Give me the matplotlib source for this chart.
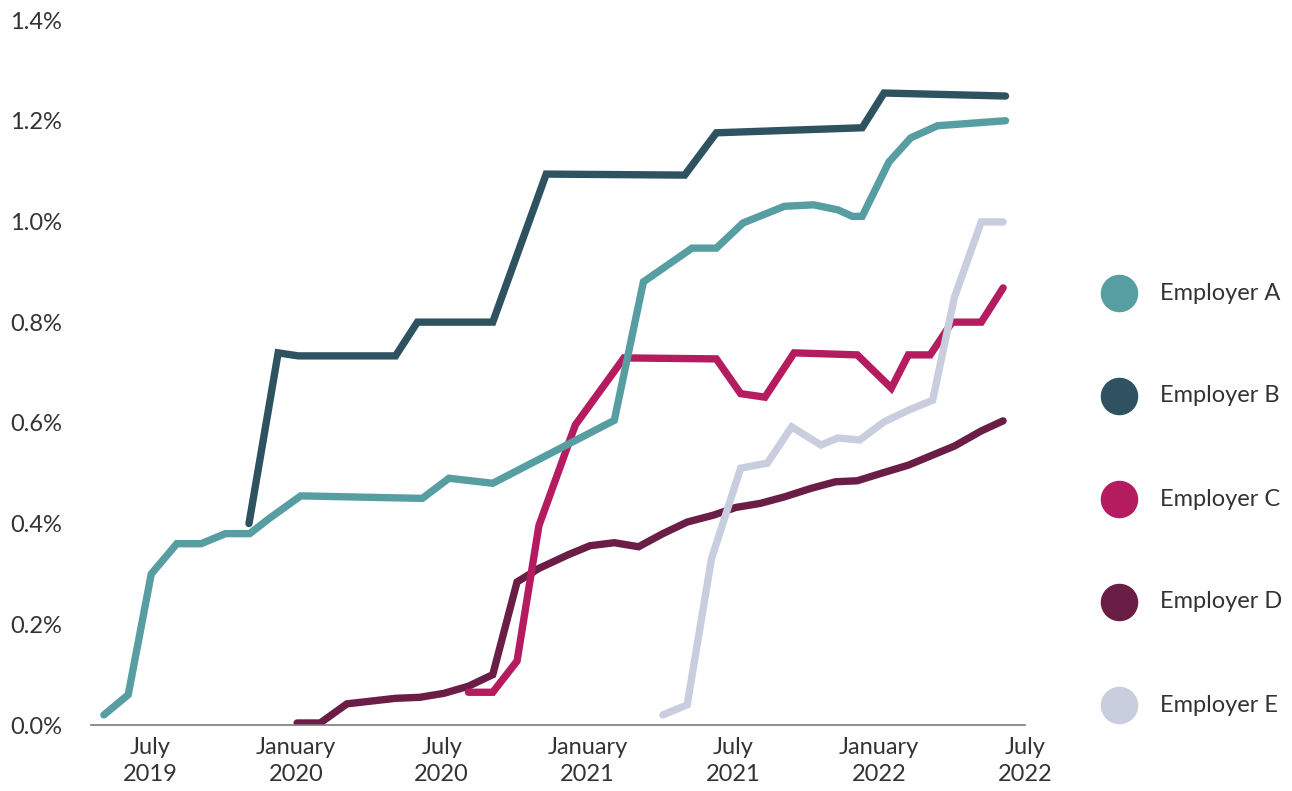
import matplotlib
matplotlib.use("Agg")
import matplotlib.pyplot as plt

# months counted from July 2019 (0 = July 2019)
tick_months = [0, 6, 12, 18, 24, 30, 36]
tick_labels = ["July\n2019", "January\n2020", "July\n2020", "January\n2021",
               "July\n2021", "January\n2022", "July\n2022"]

a_x = [-1.9, -0.9, 0.05, 1.1, 2.1, 3.1, 4.1, 4.9, 6.2, 11.2, 12.3, 14.1, 19.1, 20.3,
       22.3, 23.3, 24.4, 26.1, 27.3, 28.3, 28.9, 29.3, 30.4, 31.3, 32.4, 35.2]
a_y = [0.02, 0.06, 0.30, 0.36, 0.36, 0.38, 0.38, 0.41, 0.455, 0.45, 0.49, 0.48, 0.605, 0.88,
       0.947, 0.947, 0.997, 1.03, 1.033, 1.023, 1.01, 1.01, 1.118, 1.166, 1.19, 1.20]

b_x = [4.07, 5.27, 6.1, 10.1, 11.0, 14.1, 16.3, 22.0, 23.3, 29.3, 30.2, 35.2]
b_y = [0.40, 0.739, 0.733, 0.733, 0.80, 0.80, 1.094, 1.092, 1.176, 1.186, 1.255, 1.249]

c_x = [13.1, 14.1, 15.1, 16.0, 17.5, 19.5, 23.3, 24.3, 25.3, 26.5, 29.1, 30.5, 31.2,
       32.1, 33.0, 34.2, 35.1]
c_y = [0.065, 0.065, 0.127, 0.396, 0.596, 0.729, 0.727, 0.658, 0.651, 0.739, 0.735,
       0.669, 0.735, 0.735, 0.80, 0.80, 0.868]

d_x = [6.05, 7.0, 8.1, 10.1, 11.1, 12.1, 13.1, 14.1, 15.1, 16.0, 17.2, 18.1, 19.1, 20.1,
       21.1, 22.1, 23.2, 24.1, 25.1, 26.1, 27.2, 28.2, 29.1, 30.1, 31.2, 32.2, 33.1, 34.2, 35.1]
d_y = [0.004, 0.004, 0.042, 0.053, 0.055, 0.063, 0.077, 0.10, 0.284, 0.311, 0.338, 0.356,
       0.362, 0.354, 0.38, 0.403, 0.417, 0.432, 0.44, 0.453, 0.47, 0.483, 0.485, 0.50,
       0.516, 0.536, 0.554, 0.584, 0.604]

e_x = [21.1, 22.1, 23.1, 24.3, 25.4, 26.4, 27.6, 28.3, 29.2, 30.2, 31.2, 32.2, 33.1, 34.2, 35.1]
e_y = [0.02, 0.04, 0.33, 0.51, 0.52, 0.592, 0.556, 0.57, 0.566, 0.602, 0.625, 0.645,
       0.85, 0.999, 0.999]

names = ["Employer A", "Employer B", "Employer C", "Employer D", "Employer E"]
colors = ["#579ea3", "#2f5260", "#b51c5f", "#6b1e45", "#c9cede"]
series = [(a_x, a_y), (b_x, b_y), (c_x, c_y), (d_x, d_y), (e_x, e_y)]
zorders = [3, 4, 2, 1, 5]  # D under C under A, E on top

plt.rcParams['font.family'] = ['Lato', 'DejaVu Sans']
text_color = "#333333"

fig = plt.figure(figsize=(12.92, 7.91), dpi=100)
ax = fig.add_axes([91 / 1292, 66 / 791, 934 / 1292, 705 / 791])

for (xs, ys), col, z in zip(series, colors, zorders):
    ax.plot(xs, ys, color=col, linewidth=5.3, solid_capstyle='round',
            solid_joinstyle='miter', zorder=z)

ax.set_xlim(-2.43, 36.0)
ax.set_ylim(0, 1.4)
ax.set_xticks(tick_months)
ax.set_xticklabels(tick_labels, linespacing=1.3)
ax.set_yticks([0, 0.2, 0.4, 0.6, 0.8, 1.0, 1.2, 1.4])
ax.set_yticklabels([f"{v:.1f}%" for v in ax.get_yticks()])
ax.tick_params(axis='both', length=0, labelsize=17, labelcolor=text_color)
ax.tick_params(axis='y', pad=21)
ax.tick_params(axis='x', pad=9)
for s in ['top', 'right', 'left']:
    ax.spines[s].set_visible(False)
ax.spines['bottom'].set_color('#7a7a7a')
ax.spines['bottom'].set_linewidth(1.2)

# legend drawn as circles + labels on the right
leg = fig.add_axes([0, 0, 1, 1], frameon=False)
leg.set_xlim(0, 1292)
leg.set_ylim(791, 0)
leg.axis('off')
for i, (name, col) in enumerate(zip(names, colors)):
    yy = 293 + i * 103
    leg.plot([1119], [yy], marker='o', markersize=26, color=col, linestyle='none')
    leg.text(1160, yy, name, fontsize=17, color=text_color, va='center', ha='left')

fig.savefig("out.png", dpi=100)
